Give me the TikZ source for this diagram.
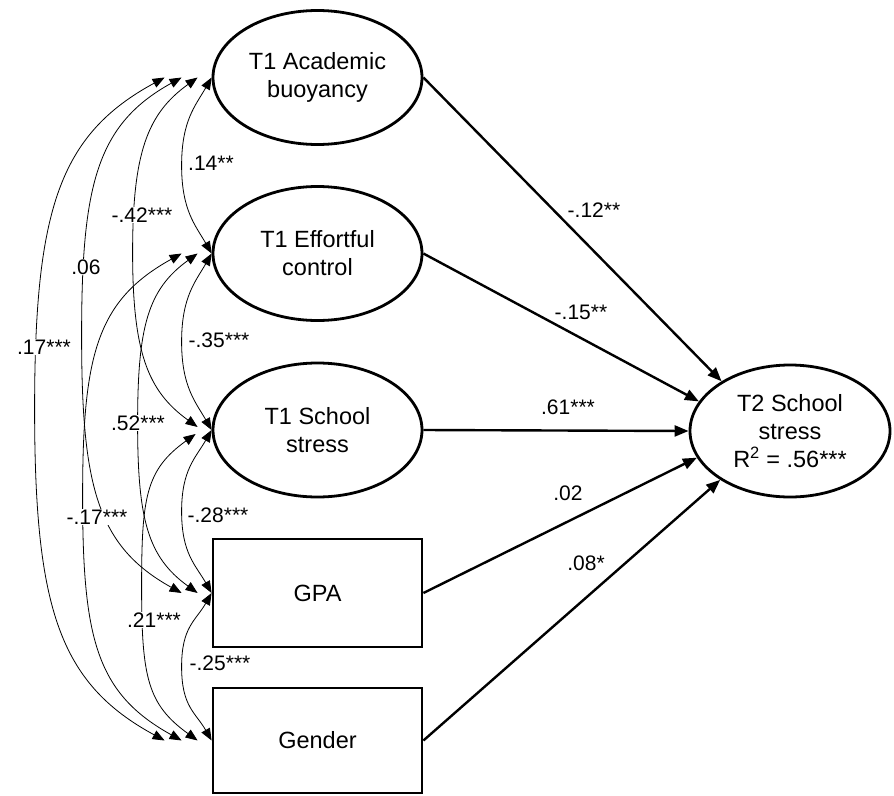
\documentclass[tikz,border=0pt]{standalone}
\usepackage{fontspec}
\setmainfont{Liberation Sans}
\usetikzlibrary{shapes.geometric,arrows.meta,calc}
\begin{document}
\begin{tikzpicture}[x=1pt,y=-1pt,
  nodefont/.style={font=\fontsize{23.5}{28}\selectfont},
  lat/.style={ellipse, draw, line width=2.8pt, minimum width=209pt, minimum height=134pt, inner sep=0pt, align=center, nodefont},
  obs/.style={rectangle, draw, line width=2.8pt, minimum width=209pt, minimum height=107pt, inner sep=0pt, align=center, nodefont},
  cov/.style={>={Triangle[length=12pt,width=9.5pt]}, <->, line width=0.8pt},
  reg/.style={>={Triangle[length=14pt,width=11pt]}, ->, line width=2.4pt},
  lbl/.style={font=\fontsize{21}{24}\selectfont, inner sep=1pt},
  clbl/.style={lbl, fill=white}]
\useasboundingbox (0,0) rectangle (894,795);

% nodes
\node[lat] (A) at (317.5,77.5) {T1 Academic\\buoyancy};
\node[lat] (E) at (317.5,253.5) {T1 Effortful\\control};
\node[lat] (S) at (317.5,430) {T1 School\\stress};
\node[obs, minimum height=108pt] (G) at (317.5,593) {GPA};
\node[obs, minimum height=105pt] (Gd) at (317.5,740.5) {Gender};
\node[lat, minimum width=200pt, minimum height=132pt] (T2) at (790,431) {T2 School\\stress\\R\textsuperscript{2} = .56***};

% covariance end points
\foreach \n in {A,E,S,G,Gd} {
  \coordinate (\n1) at (\n.west);
  \coordinate (\n2) at ($(\n.west)+(-14,0)$);
  \coordinate (\n3) at ($(\n.west)+(-30,0)$);
  \coordinate (\n4) at ($(\n.west)+(-47,0)$);
}
\coordinate (S2a) at ($(S.west)+(-14,-3)$);
\coordinate (S2b) at ($(S.west)+(-16,4)$);

% regression paths
\draw[reg] (A.east) -- (T2.144);
\draw[reg] (E.east) -- (T2.162);
\draw[reg] (S.east) -- (T2.west);
\draw[reg] (G.east) -- (T2.196);
\draw[reg] (Gd.east) -- (T2.215);

% covariances, adjacent
\draw[cov] (A1) .. controls +(-16,28) and +(0,-45) .. ($(A1)!.5!(E1)+(-30,0)$) .. controls +(0,45) and +(-16,-28) .. (E1);
\draw[cov] (E1) .. controls +(-16,28) and +(0,-45) .. ($(E1)!.5!(S1)+(-30,0)$) .. controls +(0,45) and +(-16,-28) .. (S1);
\draw[cov] (S1) .. controls +(-16,28) and +(0,-42) .. ($(S1)!.5!(G1)+(-30,0)$) .. controls +(0,42) and +(-16,-28) .. (G1);
\draw[cov] (G1) .. controls +(-16,28) and +(0,-40) .. ($(G1)!.5!(Gd1)+(-30,0)$) .. controls +(0,40) and +(-16,-28) .. (Gd1);
% gap 2
\draw[cov] (A2) .. controls +(-50,36) and +(0,-100) .. ($(A2)!.5!(S2a)+(-65,0)$) .. controls +(0,100) and +(-50,-36) .. (S2a);
\draw[cov] (E2) .. controls +(-50,36) and +(0,-96) .. ($(E2)!.5!(G2)+(-60,0)$) .. controls +(0,96) and +(-50,-36) .. (G2);
\draw[cov] (S2b) .. controls +(-50,36) and +(0,-90) .. ($(S2b)!.5!(Gd2)+(-55,0)$) .. controls +(0,90) and +(-50,-36) .. (Gd2);
% gap 3
\draw[cov] (A3) .. controls +(-85,47) and +(0,-150) .. ($(A3)!.5!(G3)+(-100,0)$) .. controls +(0,150) and +(-85,-47) .. (G3);
\draw[cov] (E3) .. controls +(-85,47) and +(0,-142) .. ($(E3)!.5!(Gd3)+(-99,0)$) .. controls +(0,142) and +(-85,-47) .. (Gd3);
% gap 4
\draw[cov] (A4) .. controls +(-105,57) and +(0,-200) .. ($(A4)!.5!(Gd4)+(-130,0)$) .. controls +(0,200) and +(-105,-57) .. (Gd4);

% covariance labels
\node[clbl] (l14) at (211,163) {.14**};
\node[clbl] (l42) at (142,215) {-.42***};
\node[clbl] (l06) at (86,267) {.06};
\node[clbl] (l17) at (44,347) {.17***};
\node[clbl] (l35) at (219,340) {-.35***};
\node[clbl] (l52) at (138,423) {.52***};
\node[clbl] (l17b) at (97,517) {-.17***};
\node[clbl] (l28) at (218,515) {-.28***};
\node[clbl] (l21) at (154,620) {.21***};
\node[clbl] (l25) at (220,663) {-.25***};

% path labels
\node[lbl] (p12) at (594,210) {-.12**};
\node[lbl] (p15) at (581,312) {-.15**};
\node[lbl] (p61) at (568,407) {.61***};
\node[lbl] (p02) at (568,493) {.02};
\node[lbl] (p08) at (586,563) {.08*};
\end{tikzpicture}
\end{document}
